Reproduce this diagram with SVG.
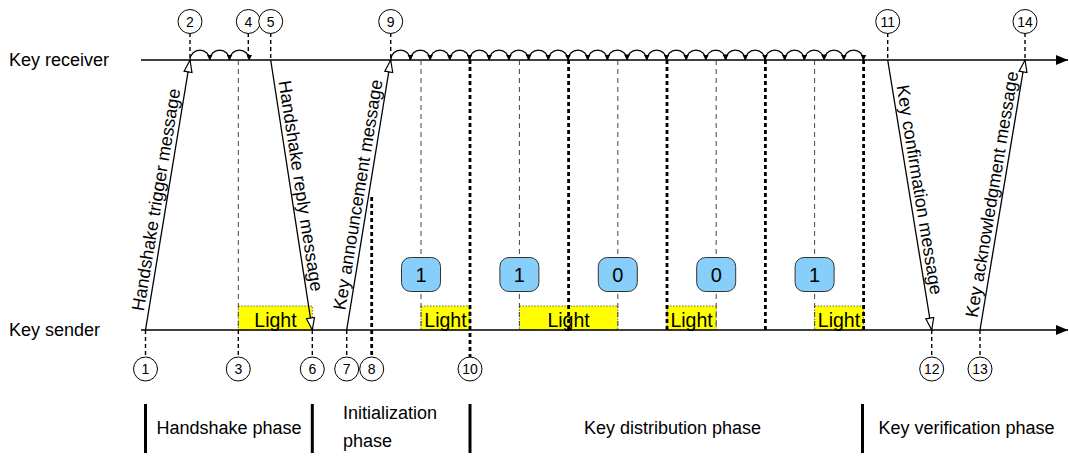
<svg xmlns="http://www.w3.org/2000/svg" width="1069" height="456" viewBox="0 0 1069 456">
  <style>
    text { font-family: "Liberation Sans", Arial, sans-serif; fill: #000; }
    .lbl { font-size: 18px; }
    .msg { font-size: 18px; text-anchor: middle; }
    .num { font-size: 14px; text-anchor: middle; }
    .bit { font-size: 20px; text-anchor: middle; }
    .light { font-size: 19.5px; text-anchor: middle; }
    .axis { stroke: #000; stroke-width: 1.4; fill: none; }
    .mline { stroke: #000; stroke-width: 1.3; fill: none; }
    .tick { stroke: #000; stroke-width: 1.4; stroke-dasharray: 4 3; fill: none; }
    .thin { stroke: #444; stroke-width: 1; stroke-dasharray: 5 4; fill: none; }
    .thick { stroke: #000; stroke-width: 2.8; stroke-dasharray: 4 3; fill: none; }
    .loop { stroke: #000; stroke-width: 1.2; fill: none; }
    .circ { fill: #fff; stroke: #000; stroke-width: 1; }
    .box { fill: #ffff00; stroke: #666; stroke-width: 1; stroke-dasharray: 1.5 1.5; }
    .node { fill: #87cefa; stroke: #333; stroke-width: 1; }
    .bar { stroke: #000; stroke-width: 3; }
  </style>
  <defs>
    <marker id="axisHead" viewBox="0 0 12 10" refX="12" refY="5" markerWidth="12" markerHeight="10" markerUnits="userSpaceOnUse" orient="auto">
      <path d="M0,0 L12,5 L0,10 Z" fill="#000"/>
    </marker>
    <marker id="openHead" viewBox="-1 -1 14 10" refX="12" refY="4" markerWidth="14" markerHeight="10" markerUnits="userSpaceOnUse" orient="auto">
      <path d="M0,0 L12,4 L0,8 Z" fill="#fff" stroke="#000" stroke-width="1.2"/>
    </marker>
    <marker id="loopHead" viewBox="0 0 6 6" refX="5.5" refY="3" markerWidth="6" markerHeight="6" markerUnits="userSpaceOnUse" orient="auto">
      <path d="M0,0 L6,3 L0,6 Z" fill="#000"/>
    </marker>
  </defs>

  <!-- side labels -->
  <g id="receiver-label"><text class="lbl" x="9" y="66">Key receiver</text></g>
  <g id="sender-label"><text class="lbl" x="9" y="336">Key sender</text></g>

  <!-- light periods on the sender side -->
  <g id="light-periods">
    <rect class="box" x="238.3" y="306" width="74" height="24"/>
    <text class="light" x="275.5" y="326.5">Light</text>
    <rect class="box" x="421" y="306" width="49" height="24"/>
    <text class="light" x="445.5" y="326.5">Light</text>
    <rect class="box" x="519.4" y="306" width="98.4" height="24"/>
    <text class="light" x="568.6" y="326.5">Light</text>
    <rect class="box" x="667" y="306" width="49.2" height="24"/>
    <text class="light" x="691.6" y="326.5">Light</text>
    <rect class="box" x="814.6" y="306" width="49" height="24"/>
    <text class="light" x="839" y="326.5">Light</text>
  </g>

  <g id="connectors">
    <!-- time axes -->
    <line class="axis" x1="141" y1="60" x2="1068" y2="60" marker-end="url(#axisHead)"/>
    <line class="axis" x1="141" y1="330" x2="1068" y2="330" marker-end="url(#axisHead)"/>

    <!-- slot boundaries -->
    <line class="thin" x1="238.3" y1="60" x2="238.3" y2="330"/>
    <line class="thin" x1="421" y1="60" x2="421" y2="330"/>
    <line class="thin" x1="519.4" y1="60" x2="519.4" y2="330"/>
    <line class="thin" x1="617.8" y1="60" x2="617.8" y2="330"/>
    <line class="thin" x1="716.2" y1="60" x2="716.2" y2="330"/>
    <line class="thin" x1="814.6" y1="60" x2="814.6" y2="330"/>
    <line class="thick" x1="470" y1="60" x2="470" y2="357"/>
    <line class="thick" x1="568.6" y1="60" x2="568.6" y2="330"/>
    <line class="thick" x1="667" y1="60" x2="667" y2="330"/>
    <line class="thick" x1="765.4" y1="60" x2="765.4" y2="330"/>
    <line class="thick" x1="863.6" y1="60" x2="863.6" y2="330"/>
    <line class="thick" x1="371.7" y1="197" x2="371.7" y2="357"/>

    <!-- event ticks, receiver side -->
    <line class="tick" x1="190" y1="33" x2="190" y2="60"/>
    <line class="tick" x1="248.3" y1="33" x2="248.3" y2="60"/>
    <line class="tick" x1="270.7" y1="33" x2="270.7" y2="60"/>
    <line class="tick" x1="390.7" y1="33" x2="390.7" y2="60"/>
    <line class="tick" x1="887.7" y1="33" x2="887.7" y2="60"/>
    <line class="tick" x1="1025" y1="33" x2="1025" y2="60"/>
    <!-- event ticks, sender side -->
    <line class="tick" x1="145.5" y1="330" x2="145.5" y2="357"/>
    <line class="tick" x1="238.3" y1="330" x2="238.3" y2="357"/>
    <line class="tick" x1="312.3" y1="330" x2="312.3" y2="357"/>
    <line class="tick" x1="346.7" y1="330" x2="346.7" y2="357"/>
    <line class="tick" x1="931.7" y1="330" x2="931.7" y2="357"/>
    <line class="tick" x1="980" y1="330" x2="980" y2="357"/>

    <!-- receiver waiting loops -->
    <path class="loop" marker-end="url(#loopHead)" d="M190,60 A9.88,9.88 0 0 1 209.77,60"/>
    <path class="loop" marker-end="url(#loopHead)" d="M209.77,60 A9.88,9.88 0 0 1 229.53,60"/>
    <path class="loop" marker-end="url(#loopHead)" d="M229.53,60 A9.88,9.88 0 0 1 249.3,60"/>

    <path class="loop" marker-end="url(#loopHead)" d="M390.7,60 A9.85,9.85 0 0 1 410.4,60"/>
    <path class="loop" marker-end="url(#loopHead)" d="M410.4,60 A9.85,9.85 0 0 1 430.1,60"/>
    <path class="loop" marker-end="url(#loopHead)" d="M430.1,60 A9.85,9.85 0 0 1 449.8,60"/>
    <path class="loop" marker-end="url(#loopHead)" d="M449.8,60 A9.85,9.85 0 0 1 469.5,60"/>
    <path class="loop" marker-end="url(#loopHead)" d="M469.5,60 A9.85,9.85 0 0 1 489.2,60"/>
    <path class="loop" marker-end="url(#loopHead)" d="M489.2,60 A9.85,9.85 0 0 1 508.9,60"/>
    <path class="loop" marker-end="url(#loopHead)" d="M508.9,60 A9.85,9.85 0 0 1 528.6,60"/>
    <path class="loop" marker-end="url(#loopHead)" d="M528.6,60 A9.85,9.85 0 0 1 548.3,60"/>
    <path class="loop" marker-end="url(#loopHead)" d="M548.3,60 A9.85,9.85 0 0 1 568,60"/>
    <path class="loop" marker-end="url(#loopHead)" d="M568,60 A9.85,9.85 0 0 1 587.7,60"/>
    <path class="loop" marker-end="url(#loopHead)" d="M587.7,60 A9.85,9.85 0 0 1 607.4,60"/>
    <path class="loop" marker-end="url(#loopHead)" d="M607.4,60 A9.85,9.85 0 0 1 627.1,60"/>
    <path class="loop" marker-end="url(#loopHead)" d="M627.1,60 A9.85,9.85 0 0 1 646.8,60"/>
    <path class="loop" marker-end="url(#loopHead)" d="M646.8,60 A9.85,9.85 0 0 1 666.5,60"/>
    <path class="loop" marker-end="url(#loopHead)" d="M666.5,60 A9.85,9.85 0 0 1 686.2,60"/>
    <path class="loop" marker-end="url(#loopHead)" d="M686.2,60 A9.85,9.85 0 0 1 705.9,60"/>
    <path class="loop" marker-end="url(#loopHead)" d="M705.9,60 A9.85,9.85 0 0 1 725.6,60"/>
    <path class="loop" marker-end="url(#loopHead)" d="M725.6,60 A9.85,9.85 0 0 1 745.3,60"/>
    <path class="loop" marker-end="url(#loopHead)" d="M745.3,60 A9.85,9.85 0 0 1 765,60"/>
    <path class="loop" marker-end="url(#loopHead)" d="M765,60 A9.85,9.85 0 0 1 784.7,60"/>
    <path class="loop" marker-end="url(#loopHead)" d="M784.7,60 A9.85,9.85 0 0 1 804.4,60"/>
    <path class="loop" marker-end="url(#loopHead)" d="M804.4,60 A9.85,9.85 0 0 1 824.1,60"/>
    <path class="loop" marker-end="url(#loopHead)" d="M824.1,60 A9.85,9.85 0 0 1 843.8,60"/>
    <path class="loop" marker-end="url(#loopHead)" d="M843.8,60 A9.85,9.85 0 0 1 863.5,60"/>

    <!-- messages -->
    <line class="mline" x1="145.5" y1="330" x2="190" y2="60" marker-end="url(#openHead)"/>
    <line class="mline" x1="270.7" y1="60" x2="312.3" y2="330" marker-end="url(#openHead)"/>
    <line class="mline" x1="346.7" y1="330" x2="390.7" y2="60" marker-end="url(#openHead)"/>
    <line class="mline" x1="887.7" y1="60" x2="931.7" y2="330" marker-end="url(#openHead)"/>
    <line class="mline" x1="980" y1="330" x2="1025" y2="60" marker-end="url(#openHead)"/>
  </g>

  <!-- message labels -->
  <g id="msg-trigger" transform="translate(166.6,201.5) rotate(-80.64)"><text class="msg" x="0" y="-4.5">Handshake trigger message</text></g>
  <g id="msg-reply" transform="translate(290.3,187.5) rotate(81.24)"><text class="msg" x="0" y="-4.5">Handshake reply message</text></g>
  <g id="msg-announce" transform="translate(368.4,196.5) rotate(-80.75)"><text class="msg" x="0" y="-4.5">Key announcement message</text></g>
  <g id="msg-confirm" transform="translate(909.1,191.5) rotate(80.75)"><text class="msg" x="0" y="-4.5">Key confirmation message</text></g>
  <g id="msg-ack" transform="translate(1002.3,196) rotate(-80.54)"><text class="msg" x="0" y="-4.5">Key acknowledgment message</text></g>

  <!-- transmitted bits -->
  <g id="bit-1"><rect class="node" x="401.5" y="257.5" width="39" height="34" rx="9"/><text class="bit" x="421" y="282">1</text></g>
  <g id="bit-2"><rect class="node" x="499.9" y="257.5" width="39" height="34" rx="9"/><text class="bit" x="519.4" y="282">1</text></g>
  <g id="bit-3"><rect class="node" x="598.3" y="257.5" width="39" height="34" rx="9"/><text class="bit" x="617.8" y="282">0</text></g>
  <g id="bit-4"><rect class="node" x="696.7" y="257.5" width="39" height="34" rx="9"/><text class="bit" x="716.2" y="282">0</text></g>
  <g id="bit-5"><rect class="node" x="795.1" y="257.5" width="39" height="34" rx="9"/><text class="bit" x="814.6" y="282">1</text></g>

  <!-- numbered events -->
  <g id="ev-2"><circle class="circ" cx="190" cy="21.5" r="12"/><text class="num" x="190" y="26.5">2</text></g>
  <g id="ev-4"><circle class="circ" cx="248.3" cy="21.5" r="12"/><text class="num" x="248.3" y="26.5">4</text></g>
  <g id="ev-5"><circle class="circ" cx="270.7" cy="21.5" r="12"/><text class="num" x="270.7" y="26.5">5</text></g>
  <g id="ev-9"><circle class="circ" cx="390.7" cy="21.5" r="12"/><text class="num" x="390.7" y="26.5">9</text></g>
  <g id="ev-11"><circle class="circ" cx="887.7" cy="21.5" r="12"/><text class="num" x="887.7" y="26.5">11</text></g>
  <g id="ev-14"><circle class="circ" cx="1025" cy="21.5" r="12"/><text class="num" x="1025" y="26.5">14</text></g>
  <g id="ev-1"><circle class="circ" cx="145.5" cy="369" r="12"/><text class="num" x="145.5" y="374">1</text></g>
  <g id="ev-3"><circle class="circ" cx="238.3" cy="369" r="12"/><text class="num" x="238.3" y="374">3</text></g>
  <g id="ev-6"><circle class="circ" cx="312.3" cy="369" r="12"/><text class="num" x="312.3" y="374">6</text></g>
  <g id="ev-7"><circle class="circ" cx="346.7" cy="369" r="12"/><text class="num" x="346.7" y="374">7</text></g>
  <g id="ev-8"><circle class="circ" cx="371.7" cy="369" r="12"/><text class="num" x="371.7" y="374">8</text></g>
  <g id="ev-10"><circle class="circ" cx="470" cy="369" r="12"/><text class="num" x="470" y="374">10</text></g>
  <g id="ev-12"><circle class="circ" cx="931.7" cy="369" r="12"/><text class="num" x="931.7" y="374">12</text></g>
  <g id="ev-13"><circle class="circ" cx="980" cy="369" r="12"/><text class="num" x="980" y="374">13</text></g>

  <!-- phases -->
  <g id="phases">
    <line class="bar" x1="145.5" y1="404" x2="145.5" y2="453"/>
    <line class="bar" x1="312.3" y1="404" x2="312.3" y2="453"/>
    <line class="bar" x1="470" y1="404" x2="470" y2="453"/>
    <line class="bar" x1="862.5" y1="404" x2="862.5" y2="453"/>
    <text class="lbl" x="156.5" y="434">Handshake phase</text>
    <text class="lbl" x="343" y="419">Initialization</text>
    <text class="lbl" x="343" y="447">phase</text>
    <text class="lbl" x="584" y="434">Key distribution phase</text>
    <text class="lbl" x="878.5" y="434">Key verification phase</text>
  </g>
</svg>
